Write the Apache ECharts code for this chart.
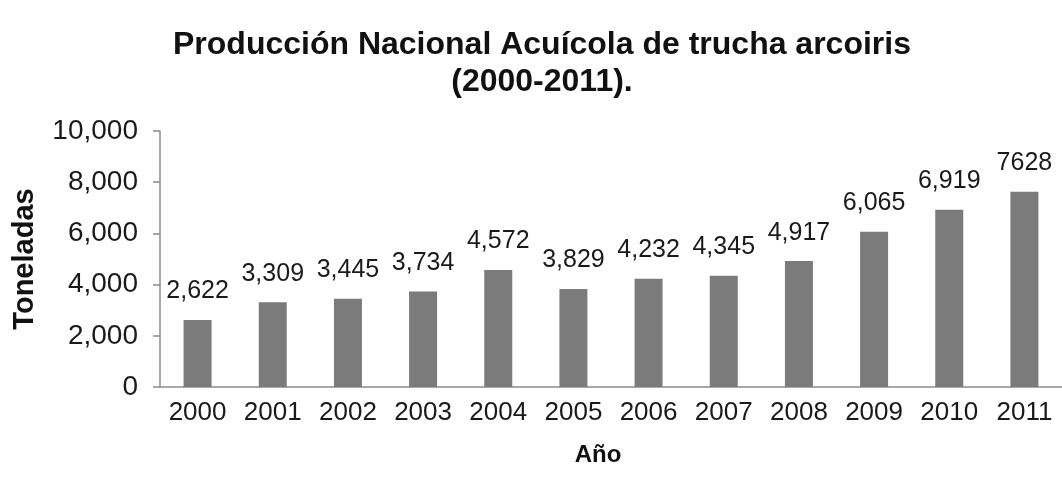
<!DOCTYPE html>
<html><head><meta charset="utf-8">
<script src="https://cdn.jsdelivr.net/npm/echarts@6/dist/echarts.min.js"></script>
<style>html,body{margin:0;padding:0;background:#fff}#c{width:1062px;height:484px}</style>
</head><body><div id="c"></div>
<script>
const years = ['2000','2001','2002','2003','2004','2005','2006','2007','2008','2009','2010','2011'];
const tonnes = [2622, 3309, 3445, 3734, 4572, 3829, 4232, 4345, 4917, 6065, 6919, 7628];
const valueLabels = ['2,622','3,309','3,445','3,734','4,572','3,829','4,232','4,345','4,917','6,065','6,919','7628'];
const yTicks = [0, 2000, 4000, 6000, 8000, 10000];
const titleText = 'Producción Nacional Acuícola de trucha arcoiris\n(2000-2011).';

const FONT = "'Liberation Sans', Arial, sans-serif";
const chart = echarts.init(document.getElementById('c'), null, {renderer: 'canvas'});
chart.setOption({
  backgroundColor: '#fff',
  animation: false,
  title: {
    text: titleText,
    left: 537, top: 22, textAlign: 'center',
    textStyle: {fontFamily: FONT, fontWeight: 'bold', fontSize: 32, lineHeight: 37, color: '#111'}
  },
  grid: {left: 160, right: 0, top: 131, bottom: 97, outerBoundsMode: 'none', containLabel: false},
  xAxis: {
    type: 'category', data: years,
    name: 'Año', nameLocation: 'middle', nameGap: 56,
    nameTextStyle: {fontFamily: FONT, fontWeight: 'bold', fontSize: 24, color: '#111', padding: [0, 26, 0, 0]},
    axisLine: {lineStyle: {color: '#8c8c8c', width: 1.5}},
    axisTick: {length: 8, lineStyle: {color: '#8c8c8c', width: 1.5}},
    axisLabel: {fontFamily: FONT, fontSize: 26, color: '#1a1a1a', margin: 13, interval: 0}
  },
  yAxis: {
    type: 'value', min: yTicks[0], max: yTicks[yTicks.length - 1], interval: 2000,
    name: 'Toneladas', nameLocation: 'middle', nameGap: 121, nameRotate: 90,
    nameTextStyle: {fontFamily: FONT, fontWeight: 'bold', fontSize: 29, color: '#111'},
    axisLine: {show: true, lineStyle: {color: '#8c8c8c', width: 1.5}},
    axisTick: {show: true, length: 7, lineStyle: {color: '#8c8c8c', width: 1.5}},
    splitLine: {show: false},
    axisLabel: {fontFamily: FONT, fontSize: 28, color: '#1a1a1a', margin: 22,
      formatter: v => v.toLocaleString('en-US')}
  },
  series: [{
    type: 'bar', data: tonnes, barWidth: 28,
    itemStyle: {color: '#7b7b7b'},
    label: {show: true, position: 'top', distance: 16,
      fontFamily: FONT, fontSize: 25, color: '#1a1a1a',
      formatter: p => valueLabels[p.dataIndex]}
  }]
});
</script></body></html>
